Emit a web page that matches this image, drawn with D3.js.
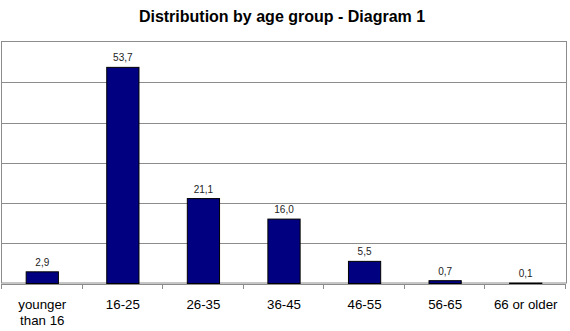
<!DOCTYPE html>
<html>
<head>
<meta charset="utf-8">
<script src="https://cdn.jsdelivr.net/npm/d3@7"></script>
<style>
  html, body { margin: 0; padding: 0; background: #fff; }
  svg { display: block; font-family: "Liberation Sans", Arial, sans-serif; }
</style>
</head>
<body>
<svg id="chart" width="570" height="331"></svg>
<script>
// Age groups (category labels, "\n" splits a label over two lines)
const categories = ["younger\nthan 16", "16-25", "26-35", "36-45", "46-55", "56-65", "66 or older"];
// Share per age group
const values = [2.9, 53.7, 21.1, 16.0, 5.5, 0.7, 0.1];
// Value-axis gridline positions
const yTicks = [0, 10, 20, 30, 40, 50, 60];
const title = "Distribution by age group - Diagram 1";

const svg = d3.select("#chart");
const plot = { left: 2, right: 566, top: 42, bottom: 283.5 };

const x = d3.scaleBand()
  .domain(categories)
  .range([plot.left, plot.right])
  .paddingInner(0)
  .paddingOuter(0);

const y = d3.scaleLinear()
  .domain([0, 60])
  .range([plot.bottom, plot.top]);

const fmt = v => v.toFixed(1).replace(".", ",");

// Title
svg.append("text")
  .attr("x", 282)
  .attr("y", 22)
  .attr("text-anchor", "middle")
  .attr("font-size", 16)
  .attr("font-weight", "bold")
  .attr("fill", "#000")
  .text(title);

// Horizontal gridlines
svg.append("g")
  .selectAll("line")
  .data(yTicks.slice(1, -1))
  .join("line")
  .attr("x1", plot.left)
  .attr("x2", plot.right)
  .attr("y1", d => Math.round(y(d)) + 0.5)
  .attr("y2", d => Math.round(y(d)) + 0.5)
  .attr("stroke", "#8c8c8c")
  .attr("stroke-width", 1);

// Plot frame
svg.append("rect")
  .attr("x", plot.left - 0.5)
  .attr("y", plot.top - 0.5)
  .attr("width", plot.right - plot.left + 1)
  .attr("height", plot.bottom - plot.top)
  .attr("fill", "none")
  .attr("stroke", "#8c8c8c")
  .attr("stroke-width", 1);

// Bars: gap width 150% of the bar
const barW = x.bandwidth() / 2.5;
svg.append("g")
  .selectAll("rect")
  .data(values)
  .join("rect")
  .attr("x", (d, i) => x(categories[i]) + (x.bandwidth() - barW) / 2)
  .attr("y", d => y(d))
  .attr("width", barW)
  .attr("height", d => y(0) - y(d))
  .attr("fill", "#000080")
  .attr("stroke", "#000")
  .attr("stroke-width", 1);

// Value labels
svg.append("g")
  .selectAll("text")
  .data(values)
  .join("text")
  .attr("x", (d, i) => x(categories[i]) + x.bandwidth() / 2)
  .attr("y", d => y(d) - 6)
  .attr("text-anchor", "middle")
  .attr("font-size", 10)
  .attr("fill", "#222")
  .text(fmt);

// Category axis with ticks at band boundaries
const axis = svg.append("g");
axis.append("line")
  .attr("x1", plot.left).attr("x2", plot.right)
  .attr("y1", Math.round(plot.bottom) + 0.5).attr("y2", Math.round(plot.bottom) + 0.5)
  .attr("stroke", "#8c8c8c");
axis.selectAll("line.tick")
  .data(categories)
  .join("line")
  .attr("class", "tick")
  .attr("x1", d => Math.round(x(d) + x.bandwidth()) - 0.5)
  .attr("x2", d => Math.round(x(d) + x.bandwidth()) - 0.5)
  .attr("y1", Math.round(plot.bottom))
  .attr("y2", Math.round(plot.bottom) + 5)
  .attr("stroke", "#8c8c8c");
axis.append("line")
  .attr("x1", plot.left - 0.5).attr("x2", plot.left - 0.5)
  .attr("y1", Math.round(plot.bottom)).attr("y2", Math.round(plot.bottom) + 5)
  .attr("stroke", "#8c8c8c");

const catLabels = axis.selectAll("text")
  .data(categories)
  .join("text")
  .attr("x", d => x(d) + x.bandwidth() / 2)
  .attr("y", 309)
  .attr("text-anchor", "middle")
  .attr("font-size", 13.3)
  .attr("fill", "#000");
catLabels.each(function(d) {
  const t = d3.select(this);
  d.split("\n").forEach((line, i) => {
    t.append("tspan")
      .attr("x", x(d) + x.bandwidth() / 2)
      .attr("dy", i === 0 ? 0 : 16)
      .text(line);
  });
});
</script>
</body>
</html>
